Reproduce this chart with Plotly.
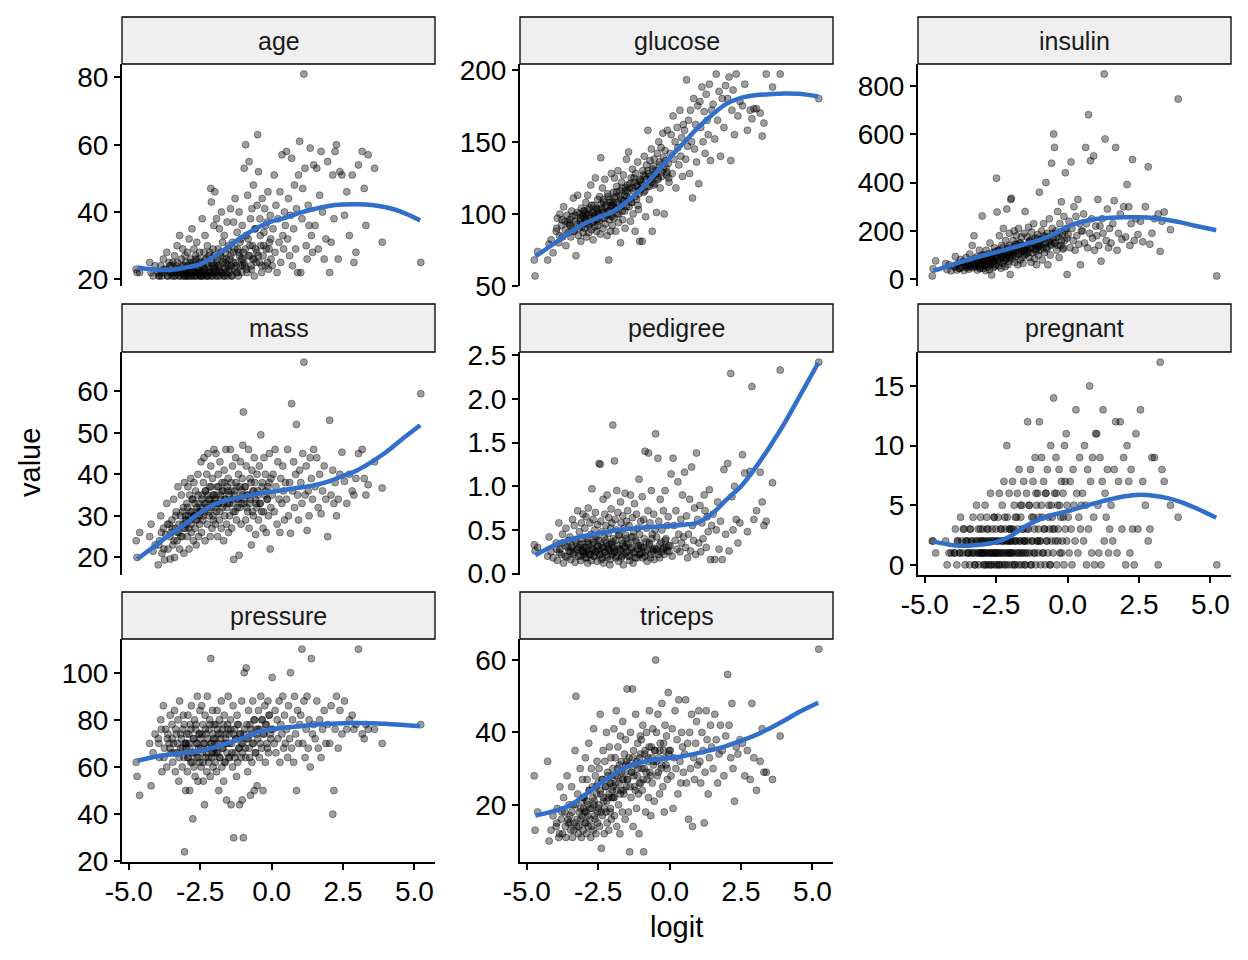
import plotly.graph_objects as go

W, H = 1248, 960

# ---------------- data ----------------
logit = [
    -4.74, -4.71, -4.62, -4.27, -4.22, -4.15, -4.08,
    -3.97, -3.93, -3.88, -3.84, -3.79, -3.75, -3.71, -3.67, -3.63, -3.59, -3.55, -3.52,
    -3.49, -3.46, -3.43, -3.40, -3.37, -3.34, -3.31, -3.28, -3.25, -3.22, -3.19, -3.16, -3.13, -3.11, -3.09, -3.07, -3.05, -3.03, -3.01,
    -2.99, -2.97, -2.95, -2.93, -2.91, -2.89, -2.87, -2.85, -2.83, -2.81, -2.79, -2.76, -2.74, -2.72, -2.70, -2.68, -2.66, -2.64, -2.62, -2.60, -2.58, -2.56, -2.54, -2.52, -2.51,
    -2.49, -2.47, -2.45, -2.43, -2.41, -2.39, -2.37, -2.35, -2.33, -2.31, -2.29, -2.27, -2.25, -2.23, -2.21, -2.19, -2.17, -2.15, -2.13, -2.11, -2.09, -2.07, -2.05, -2.04, -2.02, -2.01,
    -1.99, -1.97, -1.95, -1.93, -1.91, -1.89, -1.87, -1.85, -1.83, -1.81, -1.79, -1.76, -1.74, -1.72, -1.70, -1.68, -1.66, -1.64, -1.62, -1.60, -1.58, -1.56, -1.54, -1.52, -1.51,
    -1.49, -1.47, -1.44, -1.42, -1.40, -1.37, -1.35, -1.33, -1.30, -1.28, -1.26, -1.23, -1.21, -1.19, -1.16, -1.14, -1.12, -1.09, -1.07, -1.05, -1.03, -1.01,
    -0.99, -0.96, -0.94, -0.91, -0.89, -0.86, -0.84, -0.81, -0.79, -0.76, -0.74, -0.71, -0.69, -0.66, -0.64, -0.61, -0.59, -0.56, -0.54, -0.51,
    -0.49, -0.46, -0.43, -0.41, -0.38, -0.35, -0.33, -0.30, -0.27, -0.24, -0.22, -0.19, -0.16, -0.13, -0.11, -0.08, -0.05, -0.02,
    0.02, 0.05, 0.09, 0.12, 0.15, 0.19, 0.22, 0.26, 0.29, 0.32, 0.36, 0.39, 0.42, 0.45, 0.48,
    0.52, 0.56, 0.59, 0.63, 0.66, 0.70, 0.73, 0.77, 0.80, 0.84, 0.87, 0.91, 0.94, 0.98,
    1.02, 1.06, 1.09, 1.13, 1.17, 1.21, 1.24, 1.28, 1.31, 1.35, 1.39, 1.43, 1.47,
    1.52, 1.58, 1.63, 1.68, 1.73, 1.78, 1.84, 1.90, 1.96,
    2.03, 2.08, 2.14, 2.18, 2.22, 2.27, 2.33, 2.39, 2.46,
    2.55, 2.63, 2.72, 2.82, 2.88, 2.95,
    3.04, 3.17, 3.24, 3.30, 3.38, 3.60, 3.87,
    5.22,
    # denser core of the cloud
    -3.95, -3.86, -3.77, -3.65, -3.56,
    -3.48, -3.42, -3.36, -3.30, -3.24, -3.18, -3.12, -3.06, -3.02,
    -2.98, -2.94, -2.90, -2.86, -2.82, -2.78, -2.73, -2.69, -2.65, -2.61, -2.57, -2.53,
    -2.48, -2.44, -2.40, -2.36, -2.32, -2.28, -2.24, -2.20, -2.16, -2.12, -2.08, -2.05, -2.02,
    -1.98, -1.94, -1.90, -1.86, -1.82, -1.78, -1.73, -1.69, -1.65, -1.61, -1.57, -1.53,
    -1.48, -1.43, -1.39, -1.34, -1.29, -1.25, -1.20, -1.15, -1.11, -1.06, -1.02,
    -0.97, -0.92, -0.87, -0.82, -0.77, -0.72, -0.67, -0.62, -0.57, -0.52,
    -0.47, -0.40, -0.34, -0.28, -0.21, -0.15, -0.09, -0.03,
]

age = [
    23, 22, 22, 25, 22, 21, 24,
    22, 21, 24, 21, 26, 22, 23, 28, 21, 25, 22, 24,
    21, 25, 22, 27, 21, 24, 30, 22, 23, 33, 21, 26, 22, 29, 21, 24, 22, 27, 25,
    22, 21, 28, 24, 21, 32, 23, 22, 26, 21, 35, 25, 22, 29, 21, 24, 27, 22, 31, 21, 23, 26, 22, 28, 21,
    22, 25, 21, 38, 24, 21, 28, 23, 33, 22, 26, 21, 30, 24, 21, 27, 23, 22, 47, 43, 25, 21, 29, 22, 36, 24,
    46, 23, 21, 38, 26, 22, 29, 24, 35, 21, 27, 40, 22, 31, 25, 21, 33, 23, 28, 22, 26, 37, 21, 24, 30,
    22, 26, 41, 24, 21, 31, 28, 37, 23, 44, 25, 22, 34, 29, 21, 40, 27, 24, 32, 22, 36, 26,
    28, 53, 24, 60, 33, 22, 45, 27, 55, 30, 38, 23, 41, 26, 48, 21, 35, 29, 25, 42,
    63, 52, 25, 38, 30, 22, 44, 27, 34, 41, 24, 29, 37, 46, 23, 31, 39, 26,
    24, 35, 51, 28, 42, 22, 38, 31, 46, 25, 57, 33, 29, 40, 36,
    58, 32, 44, 27, 39, 56, 24, 35, 48, 29, 41, 22, 51, 61,
    22, 38, 47, 81, 53, 30, 26, 42, 36, 59, 33, 28, 54,
    36, 53, 29, 45, 58, 40, 26, 32, 55,
    22, 31, 51, 38, 58, 60, 26, 52, 51,
    39, 46, 33, 51, 25, 28,
    54, 58, 47, 36, 57, 53, 31,
    25,
    21, 22, 23, 21, 24,
    22, 21, 23, 25, 21, 22, 24, 21, 23,
    21, 23, 22, 25, 21, 24, 22, 21, 26, 23, 22, 25,
    21, 24, 22, 23, 26, 21, 25, 22, 28, 21, 24, 23, 27,
    22, 25, 21, 24, 23, 28, 22, 26, 21, 25, 24, 29,
    23, 27, 21, 25, 29, 24, 22, 28, 31, 26, 24,
    25, 29, 23, 32, 27, 24, 30, 26, 35, 28,
    27, 33, 24, 30, 36, 25, 29, 32,
]

glucose = [
    68, 57, 74, 68, 79, 82, 73,
    88, 97, 80, 100, 92, 84, 105, 95, 78, 99, 87, 93,
    96, 84, 102, 90, 111, 88, 99, 71, 93, 113, 85, 100, 95, 81, 104, 91, 98, 87, 102,
    102, 90, 95, 108, 84, 99, 113, 93, 87, 104, 97, 120, 89, 101, 94, 82, 106, 99, 91, 125, 96, 88, 103, 110, 92,
    100, 95, 112, 86, 139, 104, 97, 118, 90, 108, 101, 124, 93, 106, 99, 85, 114, 102, 68, 96, 110, 88, 105, 128, 98, 92,
    108, 115, 97, 125, 104, 88, 112, 119, 100, 130, 94, 107, 116, 80, 110, 122, 102, 96, 127, 109, 113, 90, 118, 105, 138,
    112, 120, 143, 105, 118, 95, 125, 108, 131, 100, 116, 122, 88, 128, 110, 119, 136, 103, 114, 81, 124, 117,
    122, 81, 130, 115, 140, 126, 98, 134, 119, 158, 128, 110, 137, 124, 145, 88, 131, 120, 138, 127,
    130, 101, 142, 125, 150, 136, 118, 146, 129, 156, 139, 100, 144, 132, 127, 158, 135, 122,
    142, 155, 128, 168, 138, 150, 118, 160, 146, 134, 172, 140, 153, 126, 162,
    158, 138, 193, 147, 165, 128, 172, 150, 111, 180, 145, 162, 136, 175,
    121, 178, 160, 188, 150, 171, 142, 183, 165, 155, 190, 137, 172,
    176, 152, 197, 165, 185, 140, 180, 160, 189,
    180, 195, 137, 172, 186, 155, 197, 168, 178,
    175, 190, 158, 172, 166, 173,
    173, 170, 154, 163, 197, 188, 197,
    180,
    90, 85, 96, 89, 94,
    92, 98, 88, 95, 101, 90, 97, 93, 99,
    97, 100, 94, 103, 92, 99, 106, 95, 101, 98, 104, 96,
    103, 99, 107, 101, 110, 97, 105, 100, 112, 102, 108, 99, 106,
    106, 111, 103, 115, 108, 100, 113, 105, 118, 109, 102, 116,
    115, 110, 121, 108, 118, 125, 112, 120, 106, 123, 117,
    120, 127, 116, 124, 130, 119, 126, 122, 133, 121,
    128, 124, 134, 126, 131, 137, 129, 125,
]

insulin = [
    14, 44, 76, 65, 40, 60, 35,
    54, 94, 38, 66, 45, 82, 50, 72, 36, 58, 90, 48,
    60, 42, 105, 55, 74, 140, 48, 180, 66, 52, 92, 38, 70, 58, 120, 45, 84, 62, 100,
    262, 68, 45, 100, 56, 82, 36, 120, 64, 50, 94, 72, 40, 150, 58, 86, 18, 66, 110, 48, 76, 130, 54, 90, 62,
    418, 278, 88, 120, 56, 180, 70, 105, 46, 140, 94, 66, 210, 78, 115, 52, 160, 84, 290, 100, 60, 130, 74, 190, 90, 20,
    330, 335, 120, 85, 160, 110, 200, 70, 145, 95, 180, 130, 60, 210, 105, 150, 80, 125, 175, 90, 140, 66, 115, 190, 100,
    280, 140, 105, 175, 120, 215, 90, 160, 130, 70, 195, 110, 150, 230, 85, 170, 125, 60, 145, 185, 100, 135,
    360, 120, 160, 200, 80, 145, 230, 110, 175, 400, 130, 190, 60, 155, 250, 100, 140, 480, 210, 170,
    600, 545, 150, 200, 120, 280, 175, 90, 230, 140, 320, 190, 125, 260, 160, 440, 210, 20,
    185, 240, 130, 485, 210, 160, 300, 120, 260, 180, 330, 145, 230, 60, 200,
    200, 270, 150, 545, 230, 130, 680, 190, 490, 250, 170, 510, 120, 220,
    180, 330, 140, 220, 75, 250, 190, 848, 580, 160, 290, 130, 210,
    150, 230, 325, 545, 120, 190, 270, 165, 300,
    175, 392, 300, 140, 230, 495, 160, 250, 185,
    240, 155, 300, 465, 145, 190,
    250, 270, 115, 240, 278, 205, 745,
    14,
    50, 60, 45, 70, 55,
    64, 52, 78, 60, 85, 56, 70, 48, 90,
    70, 88, 60, 95, 76, 105, 64, 82, 100, 72, 90, 115,
    95, 80, 120, 105, 88, 130, 100, 115, 90, 125, 110, 140, 96,
    110, 125, 100, 135, 118, 145, 105, 130, 150, 115, 140, 120,
    120, 140, 110, 155, 130, 165, 125, 145, 115, 170, 135,
    140, 165, 130, 180, 150, 125, 175, 160, 145, 190,
    150, 175, 140, 190, 160, 130, 200, 170,
]

mass = [
    24, 20, 26, 25, 28, 21.5, 23,
    18.2, 24, 30, 21, 27, 19.4, 25.5, 33, 22, 28, 19.6, 26,
    29, 23, 34, 20, 27, 31, 24, 37, 26, 22, 30, 35, 25, 28, 32, 21, 38, 27, 30,
    28, 33, 25, 37, 30, 22, 35, 29, 39, 26, 31, 34, 24, 38, 30, 27, 36, 23, 32, 29, 40, 25, 33, 28, 31,
    32, 43, 26, 35, 29, 38, 44, 31, 24, 36, 33, 40, 28, 45, 34, 30, 37, 25, 42, 32, 27, 39, 35, 29, 46, 33,
    34, 28, 45, 31, 37, 25, 40, 33, 29, 43, 35, 27, 38, 32, 36, 24, 41, 30, 34, 46, 28, 37, 33, 39, 26,
    35, 30, 46, 38, 27, 42, 33, 19.5, 36, 31, 44, 29, 37, 34, 40, 20.5, 32, 43, 28, 36, 39, 47,
    55, 33, 37, 29, 42, 35, 31, 46, 27, 39, 34, 23, 41, 36, 30, 44, 38, 25.5, 33, 40,
    36, 29, 42, 33, 49.5, 31, 38, 27, 44, 35, 40, 26, 34, 37, 30, 45, 22, 39,
    35, 40, 31, 46, 37, 28, 43, 34, 26, 39, 33, 42, 36, 29, 38,
    34, 46, 30, 38, 25.8, 57, 36, 43, 32, 40, 52, 35, 29, 41,
    38, 33, 45, 67, 35, 42, 26.5, 36, 30, 44, 39, 34, 46,
    37, 44, 32, 40, 30.5, 36, 42, 34, 25,
    53, 35, 41, 33, 38, 30, 34, 40, 45.3,
    38.3, 33, 40, 36, 35, 39,
    45, 46, 39, 35, 37.5, 43, 36.7,
    59.4,
    23, 26, 22, 28, 25,
    27, 24, 30, 26, 28, 25, 31, 27, 29,
    29, 32, 27, 31, 28, 34, 30, 33, 29, 31, 35, 30,
    31, 34, 30, 33, 36, 32, 35, 31, 34, 37, 33, 30, 35,
    32, 35, 33, 37, 31, 34, 36, 33, 38, 34, 32, 36,
    33, 36, 34, 31, 35, 38, 32, 34, 37, 33, 35,
    34, 37, 32, 35, 33, 38, 31, 36, 34, 32,
    35, 33, 37, 31, 36, 34, 38, 32,
]

pedigree = [
    0.33, 0.26, 0.30, 0.20, 0.42, 0.25, 0.18,
    0.35, 0.15, 0.58, 0.28, 0.22, 0.45, 0.12, 0.32, 0.52, 0.19, 0.38, 0.26,
    0.42, 0.16, 0.30, 0.62, 0.24, 0.55, 0.13, 0.36, 0.28, 0.72, 0.20, 0.48, 0.33, 0.15, 0.58, 0.26, 0.40, 0.68, 0.22,
    0.30, 0.52, 0.18, 0.65, 0.26, 0.40, 0.12, 0.75, 0.34, 0.22, 0.58, 0.45, 0.15, 0.97, 0.28, 0.62, 0.36, 0.20, 0.50, 0.70, 0.25, 0.42, 0.14, 0.56, 0.32,
    0.38, 1.26, 0.22, 1.25, 0.60, 0.16, 0.48, 0.30, 0.85, 0.12, 0.42, 0.68, 0.25, 0.55, 0.35, 0.90, 0.19, 0.46, 0.64, 0.28, 0.10, 0.52, 0.74, 0.33, 0.58, 0.22,
    1.70, 0.40, 0.25, 1.29, 0.62, 0.18, 0.50, 0.95, 0.32, 0.70, 0.14, 0.45, 0.28, 0.82, 0.58, 0.20, 0.38, 0.66, 0.10, 0.52, 0.30, 0.92, 0.44, 0.24, 0.60,
    0.35, 0.72, 0.20, 0.55, 0.15, 0.90, 0.42, 0.28, 0.64, 0.12, 0.48, 0.80, 0.25, 0.38, 0.68, 0.18, 0.52, 0.32, 1.08, 0.45, 0.22, 0.60,
    0.30, 0.88, 0.18, 0.62, 0.40, 1.40, 0.25, 0.52, 0.14, 0.72, 1.38, 0.35, 0.58, 0.22, 0.95, 0.45, 0.28, 0.68, 0.16, 0.50,
    1.60, 0.42, 0.26, 1.32, 0.60, 0.18, 0.85, 0.36, 0.50, 0.28, 0.72, 0.22, 0.95, 0.40, 0.30, 0.55, 0.65, 0.25,
    0.32, 1.14, 0.20, 1.32, 0.55, 0.38, 0.72, 0.28, 1.05, 0.45, 0.25, 0.62, 0.35, 0.90, 0.42,
    1.16, 0.30, 0.66, 0.18, 0.45, 0.85, 0.26, 1.22, 0.55, 0.38, 0.75, 0.22, 1.38, 0.62,
    0.35, 0.78, 0.25, 0.58, 0.40, 0.90, 0.72, 0.30, 0.65, 0.48, 0.96, 0.16, 0.55,
    0.68, 0.16, 0.50, 0.82, 0.28, 0.60, 0.16, 1.19, 0.45,
    1.26, 0.26, 2.29, 0.88, 0.50, 1.00, 0.62, 0.35, 0.58,
    1.36, 1.15, 0.48, 1.17, 2.14, 0.62,
    0.72, 1.16, 0.82, 0.55, 0.60, 1.04, 2.33,
    2.42,
    0.28, 0.24, 0.35, 0.20, 0.30,
    0.25, 0.32, 0.22, 0.38, 0.27, 0.30, 0.20, 0.34, 0.26,
    0.24, 0.30, 0.18, 0.36, 0.26, 0.22, 0.33, 0.28, 0.20, 0.40, 0.25, 0.31,
    0.27, 0.22, 0.34, 0.18, 0.30, 0.25, 0.38, 0.21, 0.29, 0.33, 0.16, 0.26, 0.36,
    0.30, 0.24, 0.38, 0.20, 0.28, 0.44, 0.26, 0.18, 0.34, 0.22, 0.31, 0.40,
    0.26, 0.34, 0.20, 0.30, 0.42, 0.24, 0.18, 0.36, 0.28, 0.22, 0.32,
    0.24, 0.30, 0.20, 0.36, 0.27, 0.33, 0.18, 0.40, 0.26, 0.29,
    0.28, 0.22, 0.34, 0.25, 0.30, 0.38, 0.26, 0.32,
]

pregnant = [
    2, 2, 1, 2, 0, 1, 1,
    1, 3, 0, 2, 1, 4, 2, 1, 3, 0, 2, 1,
    2, 1, 0, 3, 1, 2, 4, 1, 0, 2, 5, 1, 3, 0, 2, 1, 4, 2, 1,
    1, 3, 0, 2, 1, 5, 2, 0, 4, 1, 3, 0, 2, 1, 6, 1, 0, 3, 2, 1, 4, 0, 2, 1, 3,
    0, 2, 1, 4, 0, 6, 1, 3, 2, 0, 5, 1, 2, 7, 0, 3, 1, 2, 10, 4, 1, 0, 6, 2, 3, 1,
    1, 3, 0, 7, 2, 1, 5, 0, 4, 2, 1, 6, 3, 0, 8, 1, 2, 4, 0, 5, 3, 1, 7, 2, 0,
    2, 0, 6, 1, 12, 3, 5, 1, 8, 0, 4, 2, 7, 1, 3, 9, 0, 5, 2, 6, 1, 4,
    12, 2, 0, 9, 4, 1, 7, 3, 0, 6, 2, 8, 1, 5, 3, 0, 10, 2, 4, 1,
    14, 6, 2, 9, 0, 5, 3, 8, 1, 4, 7, 2, 6, 0, 10, 3, 11, 5,
    4, 1, 7, 3, 0, 8, 5, 2, 13, 6, 1, 4, 9, 3, 5,
    6, 2, 10, 5, 0, 8, 3, 15, 7, 1, 9, 4, 0, 11,
    11, 5, 1, 9, 0, 7, 13, 2, 6, 4, 8, 1, 3,
    5, 2, 8, 12, 1, 7, 12, 3, 9,
    0, 10, 7, 1, 8, 3, 0, 11, 3,
    13, 7, 5, 2, 3, 9,
    9, 0, 17, 8, 7, 5, 4,
    0,
    1, 2, 1, 3, 2,
    1, 3, 2, 1, 0, 2, 1, 3, 1,
    2, 1, 0, 1, 3, 2, 1, 0, 2, 1, 4, 1,
    1, 2, 0, 1, 3, 2, 1, 4, 0, 2, 1, 3, 2,
    2, 1, 3, 0, 2, 4, 1, 2, 5, 1, 3, 2,
    1, 3, 2, 5, 0, 2, 4, 1, 6, 2, 3,
    2, 5, 1, 3, 6, 2, 4, 0, 5, 3,
    3, 6, 2, 5, 1, 4, 7, 2,
]

pressure = [
    62, 56, 48, 70, 52, 66, 74,
    72, 64, 80, 58, 86, 68, 76, 60, 74, 70, 82, 66,
    78, 62, 70, 84, 58, 74, 66, 80, 54, 88, 68, 72, 60, 76, 82, 64, 24, 70, 50,
    68, 74, 58, 82, 64, 70, 50, 78, 62, 86, 66, 38, 72, 60, 80, 56, 76, 70, 64, 90, 54, 68, 74, 62, 84,
    72, 60, 86, 66, 78, 54, 70, 44, 82, 64, 74, 58, 90, 68, 62, 76, 80, 56, 106, 70, 64, 84, 60, 72, 66, 78,
    70, 62, 78, 58, 84, 66, 74, 50, 80, 64, 72, 88, 60, 76, 68, 54, 82, 70, 62, 74, 46, 66, 78, 90, 64,
    74, 64, 80, 44, 70, 60, 86, 30, 76, 66, 72, 56, 82, 62, 78, 68, 44, 74, 64, 88, 46, 70,
    30, 100, 76, 64, 102, 72, 58, 84, 68, 78, 48, 74, 62, 88, 70, 50, 80, 66, 76, 52,
    72, 84, 64, 76, 90, 68, 80, 50, 74, 86, 62, 78, 70, 88, 66, 82, 74, 76,
    98, 76, 70, 84, 66, 80, 72, 88, 62, 78, 74, 90, 68, 82, 70,
    76, 64, 86, 72, 100, 68, 80, 62, 90, 74, 50, 84, 70, 78,
    82, 110, 70, 88, 64, 76, 90, 68, 80, 60, 106, 74, 78,
    72, 88, 68, 80, 64, 76, 84, 70, 78,
    70, 86, 40, 50, 76, 90, 68, 84, 74,
    88, 76, 80, 82, 76, 78,
    110, 74, 72, 78, 76, 76, 70,
    78,
    70, 76, 64, 72, 68,
    72, 66, 76, 70, 64, 74, 68, 78, 70,
    70, 64, 74, 68, 76, 62, 72, 66, 78, 70, 64, 74,
    68, 74, 62, 70, 76, 66, 72, 64, 78, 70, 66, 74, 68,
    72, 66, 76, 70, 64, 74, 68, 78, 62, 72, 70, 76,
    70, 76, 66, 74, 64, 72, 78, 68, 74, 70, 66,
    74, 68, 78, 72, 64, 76, 70, 80, 66, 74,
    76, 70, 80, 74, 78, 68, 82, 72,
]

triceps = [
    28, 13, 18, 32, 10, 13, 17,
    14, 19, 11, 25, 16, 12, 22, 18, 11, 28, 15, 20,
    17, 13, 25, 11, 20, 15, 35, 50, 14, 23, 12, 18, 30, 16, 11, 21, 27, 13, 19,
    22, 15, 33, 18, 12, 27, 20, 14, 37, 24, 16, 11, 30, 19, 25, 13, 41, 21, 17, 28, 12, 23, 32, 15, 26,
    19, 30, 14, 45, 23, 8, 27, 17, 35, 21, 12, 32, 25, 18, 40, 15, 29, 22, 13, 36, 26, 19, 33, 16, 28, 24,
    30, 22, 41, 17, 33, 26, 46, 14, 28, 36, 20, 31, 12, 39, 24, 29, 18, 43, 27, 23, 34, 16, 38, 25, 32,
    52, 27, 18, 33, 7, 40, 22, 29, 52, 14, 35, 25, 31, 45, 19, 28, 37, 23, 12, 33, 39, 26,
    38, 24, 42, 7, 30, 35, 18, 40, 27, 33, 22, 46, 29, 17, 36, 26, 41, 32, 21, 35,
    60, 40, 28, 45, 33, 23, 37, 30, 48, 25, 35, 18, 42, 31, 39, 27, 51, 35,
    35, 28, 41, 19, 33, 46, 30, 38, 23, 49, 32, 26, 40, 36, 29,
    34, 49, 26, 37, 16, 40, 30, 45, 14, 33, 27, 37, 43, 31,
    46, 32, 26, 40, 35, 15, 29, 46, 38, 23, 33, 42, 36,
    30, 45, 38, 26, 34, 42, 35, 28, 39,
    56, 42, 33, 48, 30, 21, 36, 34, 38,
    37, 28, 35, 27, 48, 33,
    24, 32, 41, 29, 29, 27, 39,
    63,
    15, 12, 18, 14, 16,
    15, 18, 13, 20, 16, 14, 19, 17, 22,
    18, 15, 21, 17, 24, 19, 14, 22, 20, 16, 25, 18,
    20, 24, 18, 27, 22, 19, 25, 21, 28, 23, 18, 26, 22,
    25, 22, 28, 24, 30, 26, 23, 32, 27, 24, 29, 31,
    27, 31, 25, 29, 33, 28, 24, 32, 30, 26, 34,
    30, 27, 34, 29, 32, 36, 28, 33, 31, 35,
    32, 29, 35, 31, 37, 33, 30, 34,
]

# smoothed (loess) curves
smooth_x = [-4.7, -4.0, -3.5, -3.0, -2.5, -2.0, -1.5, -1.0, -0.5, 0.0,
            0.5, 1.0, 1.5, 2.0, 2.5, 3.0, 3.5, 4.0, 4.5, 5.2]
age_fit = [23.5, 22.8, 22.8, 23.5, 24.5, 26.8, 29.8, 32.8, 35.3, 37.2,
           38.3, 39.8, 40.9, 41.8, 42.2, 42.3, 42.1, 41.4, 40.2, 37.5]
glucose_fit = [70.5, 80, 87, 93, 97.5, 101.5, 108.5, 117, 128, 139,
               149.5, 160, 169, 176.5, 180.5, 182.3, 183, 183.5, 183.3, 181.5]
insulin_fit = [35, 62, 80, 97, 112, 128, 145, 162, 185, 218,
               238, 249, 254, 256, 256, 253, 245, 234, 220, 203]
mass_fit = [19.6, 23.2, 25.8, 28.2, 30.8, 32.8, 33.9, 34.6, 35.3, 35.8,
            36.3, 36.8, 37.4, 38.3, 39.6, 41, 43, 45.3, 48.1, 51.8]
pedigree_fit = [0.21, 0.33, 0.39, 0.43, 0.46, 0.49, 0.51, 0.525, 0.537, 0.548,
                0.56, 0.585, 0.69, 0.85, 1.0, 1.21, 1.45, 1.71, 2.0, 2.41]
pregnant_fit = [1.95, 1.65, 1.6, 1.7, 1.9, 2.4, 3.2, 3.8, 4.2, 4.5,
                4.85, 5.2, 5.5, 5.75, 5.88, 5.8, 5.6, 5.25, 4.75, 3.95]
pressure_fit = [62.7, 64.6, 65.4, 66.1, 66.8, 68.4, 70.3, 72.3, 74.8, 76,
                76.8, 77.3, 77.9, 78.3, 78.6, 78.7, 78.6, 78.3, 77.9, 77.3]
triceps_fit = [17, 18.4, 19.8, 22.5, 25.5, 28.2, 30.5, 31.7, 32.5, 32.9,
               33.5, 34.3, 35.2, 36.3, 37.7, 39.2, 41.1, 43.2, 45.5, 48.2]

x_ticks = [-5, -2.5, 0, 2.5, 5]
x_tick_labels = ["-5.0", "-2.5", "0.0", "2.5", "5.0"]

panel_names = ["age", "glucose", "insulin", "mass", "pedigree", "pregnant", "pressure", "triceps"]
panel_values = [age, glucose, insulin, mass, pedigree, pregnant, pressure, triceps]
panel_fits = [age_fit, glucose_fit, insulin_fit, mass_fit, pedigree_fit, pregnant_fit, pressure_fit, triceps_fit]
y_ticks = [
    [20, 40, 60, 80],
    [50, 100, 150, 200],
    [0, 200, 400, 600, 800],
    [20, 30, 40, 50, 60],
    [0, 0.5, 1.0, 1.5, 2.0, 2.5],
    [0, 5, 10, 15],
    [20, 40, 60, 80, 100],
    [20, 40, 60],
]
y_tick_labels = [
    ["20", "40", "60", "80"],
    ["50", "100", "150", "200"],
    ["0", "200", "400", "600", "800"],
    ["20", "30", "40", "50", "60"],
    ["0.0", "0.5", "1.0", "1.5", "2.0", "2.5"],
    ["0", "5", "10", "15"],
    ["20", "40", "60", "80", "100"],
    ["20", "40", "60"],
]

for v in panel_values:
    assert len(v) == len(logit), (len(v), len(logit))

# ---------------- layout geometry (pixels) ----------------
col_px = [(122, 435), (520, 833), (918, 1231)]
panel_rows_px = [(64, 286), (352, 575), (639, 862)]
strip_rows_px = [(17, 64), (304, 352), (592, 639)]
bottom_axis = {"pregnant", "pressure", "triceps"}


def y_range(vals):
    lo, hi = min(vals), max(vals)
    pad = (hi - lo) * 0.05
    return [lo - pad, hi + pad]


x_lo, x_hi = min(logit), max(logit)
x_pad = (x_hi - x_lo) * 0.05
x_range = [x_lo - x_pad, x_hi + x_pad]

FONT_FAMILY = "Liberation Sans, Arial, sans-serif"
TICK_FONT = dict(family=FONT_FAMILY, size=28, color="black")
BLUE = "#306FCC"

fig = go.Figure()
layout = dict(
    width=W, height=H, autosize=False,
    margin=dict(l=0, r=0, t=0, b=0, pad=0, autoexpand=False),
    paper_bgcolor="white", plot_bgcolor="white",
    showlegend=False, hovermode=False,
    font=dict(family=FONT_FAMILY, color="black"),
)
shapes = []
annotations = []

for i, name in enumerate(panel_names):
    r, c = divmod(i, 3)
    k = i + 1
    xs = "x" if k == 1 else f"x{k}"
    ys = "y" if k == 1 else f"y{k}"
    xa = "xaxis" if k == 1 else f"xaxis{k}"
    ya = "yaxis" if k == 1 else f"yaxis{k}"
    x0, x1 = col_px[c]
    top, bot = panel_rows_px[r]
    stop, sbot = strip_rows_px[r]

    fig.add_trace(go.Scatter(
        x=logit, y=panel_values[i], mode="markers", xaxis=xs, yaxis=ys,
        marker=dict(size=7, color="rgba(0,0,0,0.38)",
                    line=dict(width=0.9, color="rgba(0,0,0,0.42)")),
    ))
    fig.add_trace(go.Scatter(
        x=smooth_x, y=panel_fits[i], mode="lines", xaxis=xs, yaxis=ys,
        line=dict(color=BLUE, width=4.5, shape="spline", smoothing=1.0),
    ))

    show_bottom = name in bottom_axis
    layout[xa] = dict(
        domain=[x0 / W, x1 / W], range=x_range, anchor=ys, automargin=False,
        showgrid=False, zeroline=False,
        showline=show_bottom, linecolor="black", linewidth=2,
        ticks="outside" if show_bottom else "", ticklen=6, tickwidth=2, tickcolor="black",
        tickmode="array", tickvals=x_ticks, ticktext=x_tick_labels,
        showticklabels=show_bottom, tickfont=TICK_FONT, ticklabelstandoff=-3,
    )
    layout[ya] = dict(
        domain=[1 - bot / H, 1 - top / H], range=y_range(panel_values[i]), anchor=xs,
        automargin=False,
        showgrid=False, zeroline=False,
        showline=True, linecolor="black", linewidth=2,
        ticks="outside", ticklen=6, tickwidth=2, tickcolor="black",
        tickmode="array", tickvals=y_ticks[i], ticktext=y_tick_labels[i],
        tickfont=TICK_FONT,
    )

    shapes.append(dict(
        type="rect", xref="paper", yref="paper",
        x0=x0 / W, x1=x1 / W, y0=1 - sbot / H, y1=1 - stop / H,
        fillcolor="#EFEFEF", line=dict(color="black", width=1.3), layer="above",
    ))
    annotations.append(dict(
        text=name, xref="paper", yref="paper",
        x=(x0 + x1) / 2 / W, y=1 - (stop + sbot) / 2 / H,
        xanchor="center", yanchor="middle", showarrow=False,
        font=dict(size=25, color="#1A1A1A", family=FONT_FAMILY),
    ))

annotations.append(dict(
    text="value", xref="paper", yref="paper", x=30 / W, y=1 - 463 / H,
    xanchor="center", yanchor="middle", textangle=-90, showarrow=False,
    font=dict(size=29, color="black", family=FONT_FAMILY),
))
annotations.append(dict(
    text="logit", xref="paper", yref="paper", x=676 / W, y=1 - 927 / H,
    xanchor="center", yanchor="middle", showarrow=False,
    font=dict(size=29, color="black", family=FONT_FAMILY),
))

layout["shapes"] = shapes
layout["annotations"] = annotations
fig.update_layout(**layout)

fig.write_html("out.html")
